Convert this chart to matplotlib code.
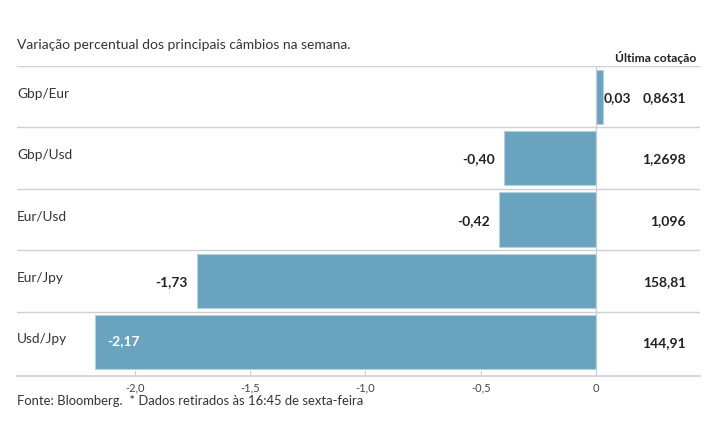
import matplotlib
matplotlib.use("Agg")
import matplotlib.pyplot as plt

pairs = ["Gbp/Eur", "Gbp/Usd", "Eur/Usd", "Eur/Jpy", "Usd/Jpy"]
changes = [0.03, -0.40, -0.42, -1.73, -2.17]
quotes = ["0,8631", "1,2698", "1,096", "158,81", "144,91"]
ticks = [-2.0, -1.5, -1.0, -0.5, 0]
tick_labels = ["-2,0", "-1,5", "-1,0", "-0,5", "0"]

plt.rcParams['font.family'] = ['Lato', 'DejaVu Sans']

W, H = 715, 445
fig = plt.figure(figsize=(W/100, H/100), dpi=100)
ax = fig.add_axes([17/W, 1-373/H, (700-17)/W, (373-66)/H])

color = "#6aa3c0"
n = len(pairs)
y = list(range(n))
ax.barh(y, changes, height=0.88, color=color, edgecolor="#b3d0de", linewidth=0.8, zorder=2)
ax.set_xlim(-2.51, 0.45)
ax.set_ylim(n-0.5, -0.5)

row_px = (373-66)/n
axis_y = n - 0.5 + 3/row_px
tick_top = axis_y - 5/row_px

# zero line
ax.plot([0, 0], [-0.5, axis_y], color="#cccccc", lw=0.9, zorder=3, clip_on=False)
# row separators
for i in range(n):
    ax.axhline(i-0.5, color="#d0d0d0", lw=1.0, zorder=3)
# bottom axis line
ax.plot([-2.51, 0.45], [axis_y, axis_y], color="#d0d0d0", lw=1.2, zorder=3, clip_on=False)
# small ticks
for t in ticks[:-1]:
    ax.plot([t, t], [tick_top, axis_y], color="#d0d0d0", lw=0.9, zorder=3, clip_on=False)

for s in ax.spines.values():
    s.set_visible(False)
ax.set_yticks([])
ax.set_xticks(ticks)
ax.set_xticklabels(tick_labels, fontsize=8, color="#444444")
ax.tick_params(axis='x', length=0, pad=7)

def fmt(v):
    return f"{v:.2f}".replace(".", ",")

for i, (p, c, q) in enumerate(zip(pairs, changes, quotes)):
    ax.text(0.0, i - 0.05, p, transform=ax.get_yaxis_transform(), ha="left", va="center",
            fontsize=9.8, color="#333333")
    if c >= 0:
        ax.text(c + 0.003, i + 0.02, fmt(c), ha="left", va="center", fontsize=10,
                fontweight="bold", color="#222222", zorder=4)
    elif c < -2.0:
        ax.text(c + 0.05, i - 0.02, fmt(c), ha="left", va="center", fontsize=10,
                fontweight="bold", color="white", zorder=4)
    else:
        ax.text(c - 0.04, i + 0.02, fmt(c), ha="right", va="center", fontsize=10,
                fontweight="bold", color="#222222", zorder=4)
    ax.text((686-17)/(700-17), i + 0.02, q, transform=ax.get_yaxis_transform(),
            ha="right", va="center", fontsize=10, fontweight="bold", color="#222222")

fig.text(17/W, 1-45/H, "Variação percentual dos principais câmbios na semana.",
         ha="left", va="center", fontsize=10, color="#333333")
fig.text(696/W, 1-57/H, "Última cotação", ha="right", va="center", fontsize=8.7,
         fontweight="bold", color="#222222")
fig.text(17/W, 1-401/H, "Fonte: Bloomberg.  * Dados retirados às 16:45 de sexta-feira",
         ha="left", va="center", fontsize=9.4, color="#333333")

fig.savefig("out.png", dpi=100)
